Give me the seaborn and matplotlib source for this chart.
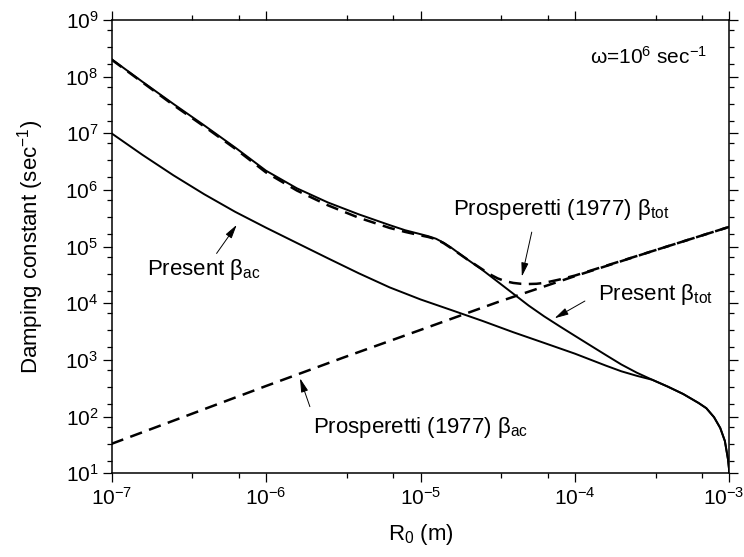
import matplotlib
matplotlib.use("Agg")
import matplotlib.pyplot as plt
import matplotlib.transforms as mtransforms
import seaborn as sns
from matplotlib.ticker import FixedLocator, FixedFormatter, NullFormatter

# ---------------- data ----------------
r_present_tot = [1.0e-7, 1.585e-7, 2.512e-7, 3.981e-7, 6.310e-7, 1.0e-6, 1.585e-6,
                 2.512e-6, 3.981e-6, 6.310e-6, 7.943e-6, 1.0e-5, 1.122e-5, 1.259e-5,
                 1.413e-5, 1.585e-5, 1.995e-5, 2.512e-5, 3.162e-5, 3.981e-5, 5.012e-5,
                 6.310e-5, 7.943e-5, 1.0e-4, 1.259e-4, 1.585e-4, 1.995e-4, 2.512e-4,
                 3.162e-4, 3.981e-4, 5.012e-4, 6.310e-4, 7.079e-4, 7.943e-4, 8.710e-4,
                 9.333e-4, 9.772e-4, 1.0e-3]
beta_present_tot = [2.04e8, 8.13e7, 3.31e7, 1.38e7, 5.62e6, 2.19e6, 1.07e6,
                    6.03e5, 3.72e5, 2.40e5, 1.95e5, 1.66e5, 1.53e5, 1.38e5,
                    1.17e5, 9.55e4, 6.03e4, 3.89e4, 2.40e4, 1.48e4, 9.12e3,
                    5.89e3, 3.94e3, 2.66e3, 1.80e3, 1.22e3, 832, 596,
                    447, 339, 251, 174, 141, 97.7, 63.1,
                    37.2, 17.8, 10.0]

r_present_ac = [1.0e-7, 1.585e-7, 2.512e-7, 3.981e-7, 6.310e-7, 1.0e-6, 1.585e-6,
                2.512e-6, 3.981e-6, 6.310e-6, 1.0e-5, 1.585e-5, 2.512e-5, 3.981e-5,
                6.310e-5, 1.0e-4, 1.585e-4, 1.995e-4, 2.512e-4, 3.162e-4, 3.981e-4,
                5.012e-4, 6.310e-4, 7.079e-4, 7.943e-4, 8.710e-4, 9.333e-4, 9.772e-4,
                1.0e-3]
beta_present_ac = [1.0e7, 4.17e6, 1.82e6, 8.41e5, 4.12e5, 2.16e5, 1.16e5,
                   6.24e4, 3.39e4, 1.91e4, 1.17e4, 7.59e3, 4.90e3, 3.09e3,
                   2.00e3, 1.29e3, 794, 631, 525, 447, 339,
                   251, 174, 141, 97.7, 63.1, 37.2, 17.8,
                   10.0]

r_prosp_tot = [1.0e-7, 1.585e-7, 2.512e-7, 3.981e-7, 6.310e-7, 1.0e-6, 1.585e-6,
               2.512e-6, 3.981e-6, 6.310e-6, 7.943e-6, 1.0e-5, 1.122e-5, 1.259e-5,
               1.413e-5, 1.585e-5, 1.995e-5, 2.512e-5, 2.818e-5, 3.162e-5, 3.548e-5,
               3.981e-5, 4.467e-5, 5.012e-5, 5.623e-5, 6.310e-5, 7.943e-5, 1.0e-4,
               3.162e-4, 1.0e-3]
beta_prosp_tot = [2.0e8, 7.94e7, 3.16e7, 1.32e7, 5.37e6, 2.04e6, 9.77e5,
                  5.37e5, 3.24e5, 2.14e5, 1.82e5, 1.58e5, 1.48e5, 1.35e5,
                  1.15e5, 9.33e4, 6.03e4, 3.98e4, 3.24e4, 2.75e4, 2.45e4,
                  2.29e4, 2.21e4, 2.19e4, 2.21e4, 2.29e4, 2.63e4, 3.09e4,
                  8.32e4, 2.24e5]

r_prosp_ac = [1.0e-7, 3.162e-7, 1.0e-6, 3.162e-6, 1.0e-5, 3.162e-5, 1.0e-4, 3.162e-4, 1.0e-3]
beta_prosp_ac = [33.1, 107, 347, 1.10e3, 3.39e3, 1.05e4, 3.02e4, 8.32e4, 2.24e5]

x_ticks = [1e-7, 1e-6, 1e-5, 1e-4, 1e-3]
x_tick_labels = [r"$10^{-7}$", r"$10^{-6}$", r"$10^{-5}$", r"$10^{-4}$", r"$10^{-3}$"]
y_ticks = [1e1, 1e2, 1e3, 1e4, 1e5, 1e6, 1e7, 1e8, 1e9]
y_tick_labels = [r"$10^{1}$", r"$10^{2}$", r"$10^{3}$", r"$10^{4}$", r"$10^{5}$",
                 r"$10^{6}$", r"$10^{7}$", r"$10^{8}$", r"$10^{9}$"]

# ---------------- style ----------------
sns.set_theme(style="ticks")
plt.rcParams["font.family"] = ["Liberation Sans", "DejaVu Sans"]
plt.rcParams["mathtext.fontset"] = "custom"
plt.rcParams["mathtext.rm"] = "Liberation Sans"
plt.rcParams["mathtext.it"] = "Liberation Sans:italic"
plt.rcParams["mathtext.bf"] = "Liberation Sans:bold"
plt.rcParams["text.color"] = "black"
plt.rcParams["axes.labelcolor"] = "black"
plt.rcParams["xtick.color"] = "black"
plt.rcParams["ytick.color"] = "black"
plt.rcParams["axes.edgecolor"] = "black"

fig = plt.figure(figsize=(7.44, 5.57), dpi=100)
ax = fig.add_axes([0.1499, 0.1503, 0.8306, 0.8138])
ax.set_xscale("log")
ax.set_yscale("log")

dash = (0, (5, 3))
sns.lineplot(x=r_prosp_ac, y=beta_prosp_ac, ax=ax, color="black", lw=1.8,
             linestyle=dash, sort=False, estimator=None)
sns.lineplot(x=r_present_ac, y=beta_present_ac, ax=ax, color="black", lw=1.4,
             sort=False, estimator=None)
sns.lineplot(x=r_present_tot, y=beta_present_tot, ax=ax, color="black", lw=1.4,
             sort=False, estimator=None)
sns.lineplot(x=r_prosp_tot, y=beta_prosp_tot, ax=ax, color="black", lw=1.8,
             linestyle=dash, sort=False, estimator=None)

ax.set_xlim(1e-7, 1e-3)
ax.set_ylim(1e1, 1e9)

ax.xaxis.set_major_locator(FixedLocator(x_ticks))
ax.xaxis.set_major_formatter(FixedFormatter(x_tick_labels))
ax.yaxis.set_major_locator(FixedLocator(y_ticks))
ax.yaxis.set_major_formatter(FixedFormatter(y_tick_labels))
x_minor = [d * m for d in x_ticks[:-1] for m in (10 / 3, 20 / 3)]
y_minor = [d * m for d in y_ticks[:-1] for m in (5 / 3, 10 / 3, 20 / 3)]
ax.xaxis.set_minor_locator(FixedLocator(x_minor))
ax.yaxis.set_minor_locator(FixedLocator(y_minor))
ax.xaxis.set_minor_formatter(NullFormatter())
ax.yaxis.set_minor_formatter(NullFormatter())

ax.tick_params(which="both", direction="out", top=True, right=True,
               labeltop=False, labelright=False)
ax.tick_params(which="major", length=6.5, width=0.9, labelsize=15, pad=3)
ax.tick_params(which="minor", length=3.5, width=0.9)
for s in ax.spines.values():
    s.set_linewidth(1.1)
    s.set_color("black")

ax.set_xlabel(r"R$_0$ (m)", fontsize=16, labelpad=10)
ax.set_ylabel(r"Damping constant (sec$^{-1}$)", fontsize=16, labelpad=14)

# keep the last x tick label inside the canvas
fig.canvas.draw()
last = ax.xaxis.get_major_ticks()[-1].label1
last.set_transform(last.get_transform() +
                   mtransforms.ScaledTranslation(-6 / 100, 0, fig.dpi_scale_trans))

# ---------------- annotations ----------------
af = ax.transAxes
ax.text(0.964, 0.918, r"$\mathrm{\omega}$=10$^{6}$ sec$^{-1}$", transform=af,
        ha="right", va="center", fontsize=15)

arrow = dict(arrowstyle="-|>,head_width=0.18,head_length=0.7", color="black",
             lw=0.7, shrinkA=0, shrinkB=0)

ax.text(0.5526, 0.570, r"Prosperetti (1977) $\mathrm{\beta}_{\mathrm{tot}}$",
        transform=af, ha="left", va="baseline", fontsize=16)
ax.annotate("", xy=(0.664, 0.434), xytext=(0.680, 0.532), xycoords=af,
            textcoords=af, arrowprops=arrow)

ax.text(0.787, 0.382, r"Present $\mathrm{\beta}_{\mathrm{tot}}$",
        transform=af, ha="left", va="baseline", fontsize=16)
ax.annotate("", xy=(0.717, 0.342), xytext=(0.766, 0.380), xycoords=af,
            textcoords=af, arrowprops=arrow)

ax.text(0.057, 0.4375, r"Present $\mathrm{\beta}_{\mathrm{ac}}$",
        transform=af, ha="left", va="baseline", fontsize=16)
ax.annotate("", xy=(0.2026, 0.548), xytext=(0.170, 0.485), xycoords=af,
            textcoords=af, arrowprops=arrow)

ax.text(0.3265, 0.089, r"Prosperetti (1977) $\mathrm{\beta}_{\mathrm{ac}}$",
        transform=af, ha="left", va="baseline", fontsize=16)
ax.annotate("", xy=(0.305, 0.2096), xytext=(0.321, 0.147), xycoords=af,
            textcoords=af, arrowprops=arrow)

fig.savefig("out.png", dpi=100, facecolor="white")
